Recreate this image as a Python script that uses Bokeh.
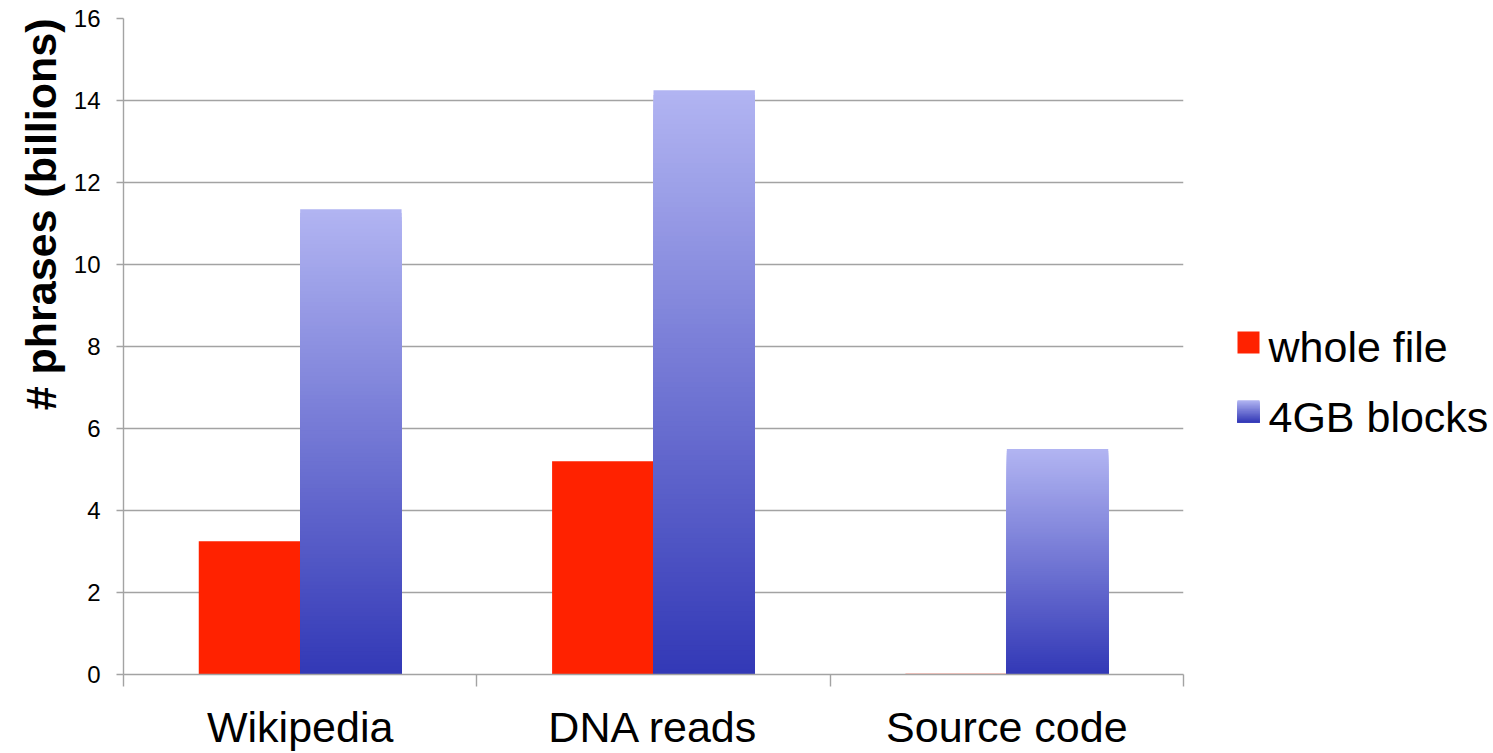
import numpy as np
from bokeh.plotting import figure
from bokeh.models import Range1d, FixedTicker, Title
from bokeh.layouts import row
from bokeh.core.properties import value
from bokeh.embed import file_html
from bokeh.resources import INLINE

# ---- data ----
categories = ["Wikipedia", "DNA reads", "Source code"]
whole_file = [3.25, 5.2, 0.02]
blocks_4gb = [11.35, 14.25, 5.5]
y_ticks = [0, 2, 4, 6, 8, 10, 12, 14, 16]
series_names = ["whole file", "4GB blocks"]
y_title = "# phrases (billions)"

# ---- style ----
RED = "#ff2200"
TOP = np.array([178, 181, 242])
BOT = np.array([50, 56, 182])
FONT = "Liberation Sans"
GRID = "#a3a3a3"
BAR_W = 0.287
N_SLICES = 120
H = 753
B_TOP, B_BOT = 18, 77


def grad_color(t):
    c = BOT + (TOP - BOT) * t
    return "#%02x%02x%02x" % tuple(int(round(v)) for v in c)


n_cat = len(categories)
p = figure(x_range=Range1d(0, n_cat), y_range=Range1d(0, 16),
           width=1193, height=H,
           min_border_left=123, min_border_top=B_TOP,
           min_border_bottom=B_BOT, min_border_right=10,
           output_backend="svg", toolbar_location=None)
p.outline_line_color = None
p.background_fill_color = "white"

# grid
p.xgrid.visible = False
p.ygrid.ticker = FixedTicker(ticks=y_ticks)
p.ygrid.grid_line_color = GRID
p.ygrid.grid_line_width = 1.4

# y axis
p.yaxis.ticker = FixedTicker(ticks=y_ticks)
p.yaxis.axis_line_color = GRID
p.yaxis.axis_line_width = 1.4
p.yaxis.major_tick_line_color = GRID
p.yaxis.major_tick_line_width = 1.4
p.yaxis.major_tick_out = 7
p.yaxis.major_tick_in = 0
p.yaxis.minor_tick_line_color = None
p.yaxis.major_label_text_font = FONT
p.yaxis.major_label_text_font_size = "24px"
p.yaxis.major_label_text_color = "black"
p.yaxis.major_label_standoff = 16

# x axis: labels at category centres, ticks at boundaries (minor ticks)
centres = [i + 0.5 for i in range(n_cat)]
p.xaxis.ticker = FixedTicker(ticks=centres, minor_ticks=list(range(n_cat + 1)))
p.xaxis.major_label_overrides = {c: name for c, name in zip(centres, categories)}
p.xaxis.axis_line_color = GRID
p.xaxis.axis_line_width = 1.4
p.xaxis.major_tick_line_color = None
p.xaxis.major_tick_out = 0
p.xaxis.major_tick_in = 0
p.xaxis.minor_tick_line_color = GRID
p.xaxis.minor_tick_line_width = 1.4
p.xaxis.minor_tick_out = 12
p.xaxis.minor_tick_in = 0
p.xaxis.major_label_text_font = FONT
p.xaxis.major_label_text_font_size = "43px"
p.xaxis.major_label_text_color = "black"
p.xaxis.major_label_standoff = 16

# y title
p.add_layout(Title(text=y_title, align="right", text_font=FONT,
                   text_font_size="43px", text_font_style="bold",
                   text_color="black", standoff=11), "left")

# red bars
idx = np.arange(n_cat)
p.quad(left=idx + 0.5 - BAR_W, right=idx + 0.5, bottom=0, top=whole_file,
       fill_color=RED, line_color=None)

# gradient blue bars: nested quads from tallest (lightest) to shortest (darkest)
lefts, rights, tops, cols = [], [], [], []
for i, v in enumerate(blocks_4gb):
    for k in range(N_SLICES - 1, -1, -1):
        lefts.append(i + 0.5)
        rights.append(i + 0.5 + BAR_W)
        tops.append(v * (k + 1) / N_SLICES)
        cols.append(grad_color((k + 0.5) / N_SLICES))
p.quad(left=lefts, right=rights, bottom=0, top=tops,
       fill_color=cols, line_color=None)

# ---- legend figure (coordinates in page pixels of the frame) ----
LW = 300
lg = figure(x_range=Range1d(0, LW), y_range=Range1d(H - B_BOT, B_TOP),
            width=LW, height=H,
            min_border_left=0, min_border_right=0,
            min_border_top=B_TOP, min_border_bottom=B_BOT,
            output_backend="svg", toolbar_location=None)
lg.axis.visible = False
lg.grid.visible = False
lg.outline_line_color = None

sq_x, sq_w = 44, 22
sq_y = [332, 401]
lg.quad(left=[sq_x], right=[sq_x + sq_w], top=[sq_y[0]], bottom=[sq_y[0] + sq_w],
        fill_color=RED, line_color=None)
ns = 40
lt, lc = [], []
for k in range(ns - 1, -1, -1):
    lt.append(sq_y[1] + sq_w - (k + 1) * sq_w / ns)
    lc.append(grad_color((k + 0.5) / ns))
lg.quad(left=sq_x, right=sq_x + sq_w, top=lt, bottom=sq_y[1] + sq_w,
        fill_color=lc, line_color=None)
lg.text(x=[75, 75], y=[sq_y[0] + 16, sq_y[1] + 17], text=series_names,
        text_font=value(FONT), text_font_size="43px", text_color="black",
        text_baseline="alphabetic", text_align="left")

layout = row(p, lg)
open("out.html", "w").write(file_html(layout, INLINE))
